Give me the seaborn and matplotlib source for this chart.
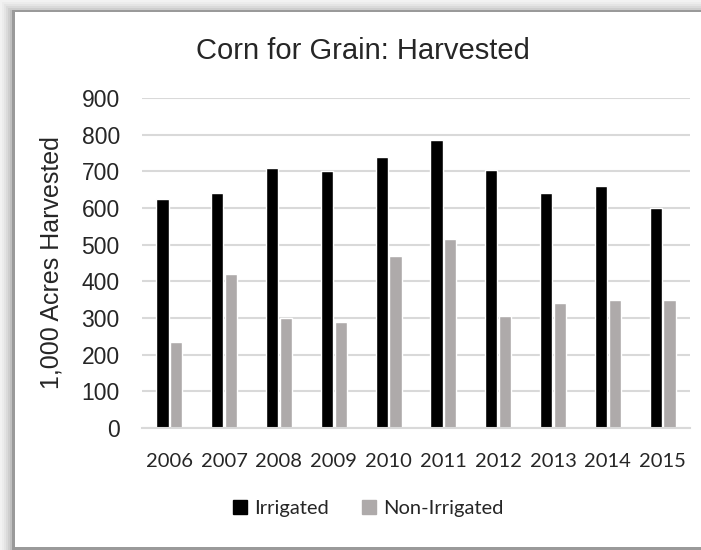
import numpy as np
import pandas as pd
import matplotlib
matplotlib.use('Agg')
import matplotlib.pyplot as plt
from matplotlib.patches import Rectangle
from matplotlib.lines import Line2D
import seaborn as sns

# values (1,000 acres)
years = ['2006', '2007', '2008', '2009', '2010', '2011', '2012', '2013', '2014', '2015']
irrigated = [625, 640, 710, 700, 740, 785, 705, 640, 660, 600]
non_irrigated = [235, 420, 300, 290, 470, 515, 305, 340, 350, 350]
series_names = ['Irrigated', 'Non-Irrigated']
colors = ['#000000', '#aeaaaa']

df = pd.DataFrame({
    'Year': years * 2,
    'Acres': irrigated + non_irrigated,
    'Type': [series_names[0]] * len(years) + [series_names[1]] * len(years),
})

sns.set_style('white')
plt.rcParams['font.family'] = ['Liberation Sans', 'DejaVu Sans']

W, H = 701, 550
fig = plt.figure(figsize=(W / 100, H / 100), dpi=100)
fig.patch.set_facecolor('white')


def px_rect(x, y, w, h, color):
    # rectangle in pixel coords (origin top-left)
    fig.add_artist(Rectangle((x / W, 1 - (y + h) / H), w / W, h / H,
                             transform=fig.transFigure, facecolor=color,
                             edgecolor='none', zorder=-10))


# frame / shadow around the chart
px_rect(0, 0, W, H, '#f4f4f4')
for i, c in enumerate(['#f2f2f2', '#ececec', '#e4e4e4', '#dadada', '#cecece', '#c0c0c0']):
    px_rect(i * 2, i * 2, W, H, c)
px_rect(12, 10, W, H - 10, '#9a9a9a')
px_rect(15, 12, W, 535, 'white')

ax = fig.add_axes([142 / W, 1 - 428 / H, (690 - 142) / W, (428 - 98) / H])
sns.barplot(data=df, x='Year', y='Acres', hue='Type', palette=colors,
            width=0.5, gap=0.11, saturation=1, legend=False, ax=ax)

ax.set_ylim(0, 900)
ax.set_yticks(range(0, 901, 100))
ax.yaxis.grid(True, color='#d9d9d9', linewidth=1.5)
ax.set_axisbelow(True)
for side in ['top', 'right', 'left']:
    ax.spines[side].set_visible(False)
ax.spines['bottom'].set_color('#d9d9d9')
ax.spines['bottom'].set_linewidth(1.5)
ax.tick_params(axis='y', length=0, pad=16, labelsize=16.5)
ax.tick_params(axis='x', length=0, pad=18)
for lbl in ax.get_xticklabels():
    lbl.set_fontfamily('Lato')
    lbl.set_fontsize(14.5)
ax.set_xlabel('')
ax.set_ylabel('')

fig.text(52 / W, 1 - 263 / H, '1,000 Acres Harvested', rotation=90,
         ha='center', va='center', fontsize=18)
fig.text(363 / W, 1 - 59 / H, 'Corn for Grain: Harvested',
         ha='center', va='baseline', fontsize=21)

handles = [Line2D([], [], marker='s', linestyle='none', markersize=10,
                  markerfacecolor=c, markeredgecolor=c) for c in colors]
fig.legend(handles, series_names, loc='center', bbox_to_anchor=(368 / W, 1 - 508 / H),
           ncol=2, frameon=False, prop={'family': 'Lato', 'size': 14.5},
           handlelength=0.8, handletextpad=0.3, columnspacing=1.6)

fig.savefig('out.png', dpi=100)
